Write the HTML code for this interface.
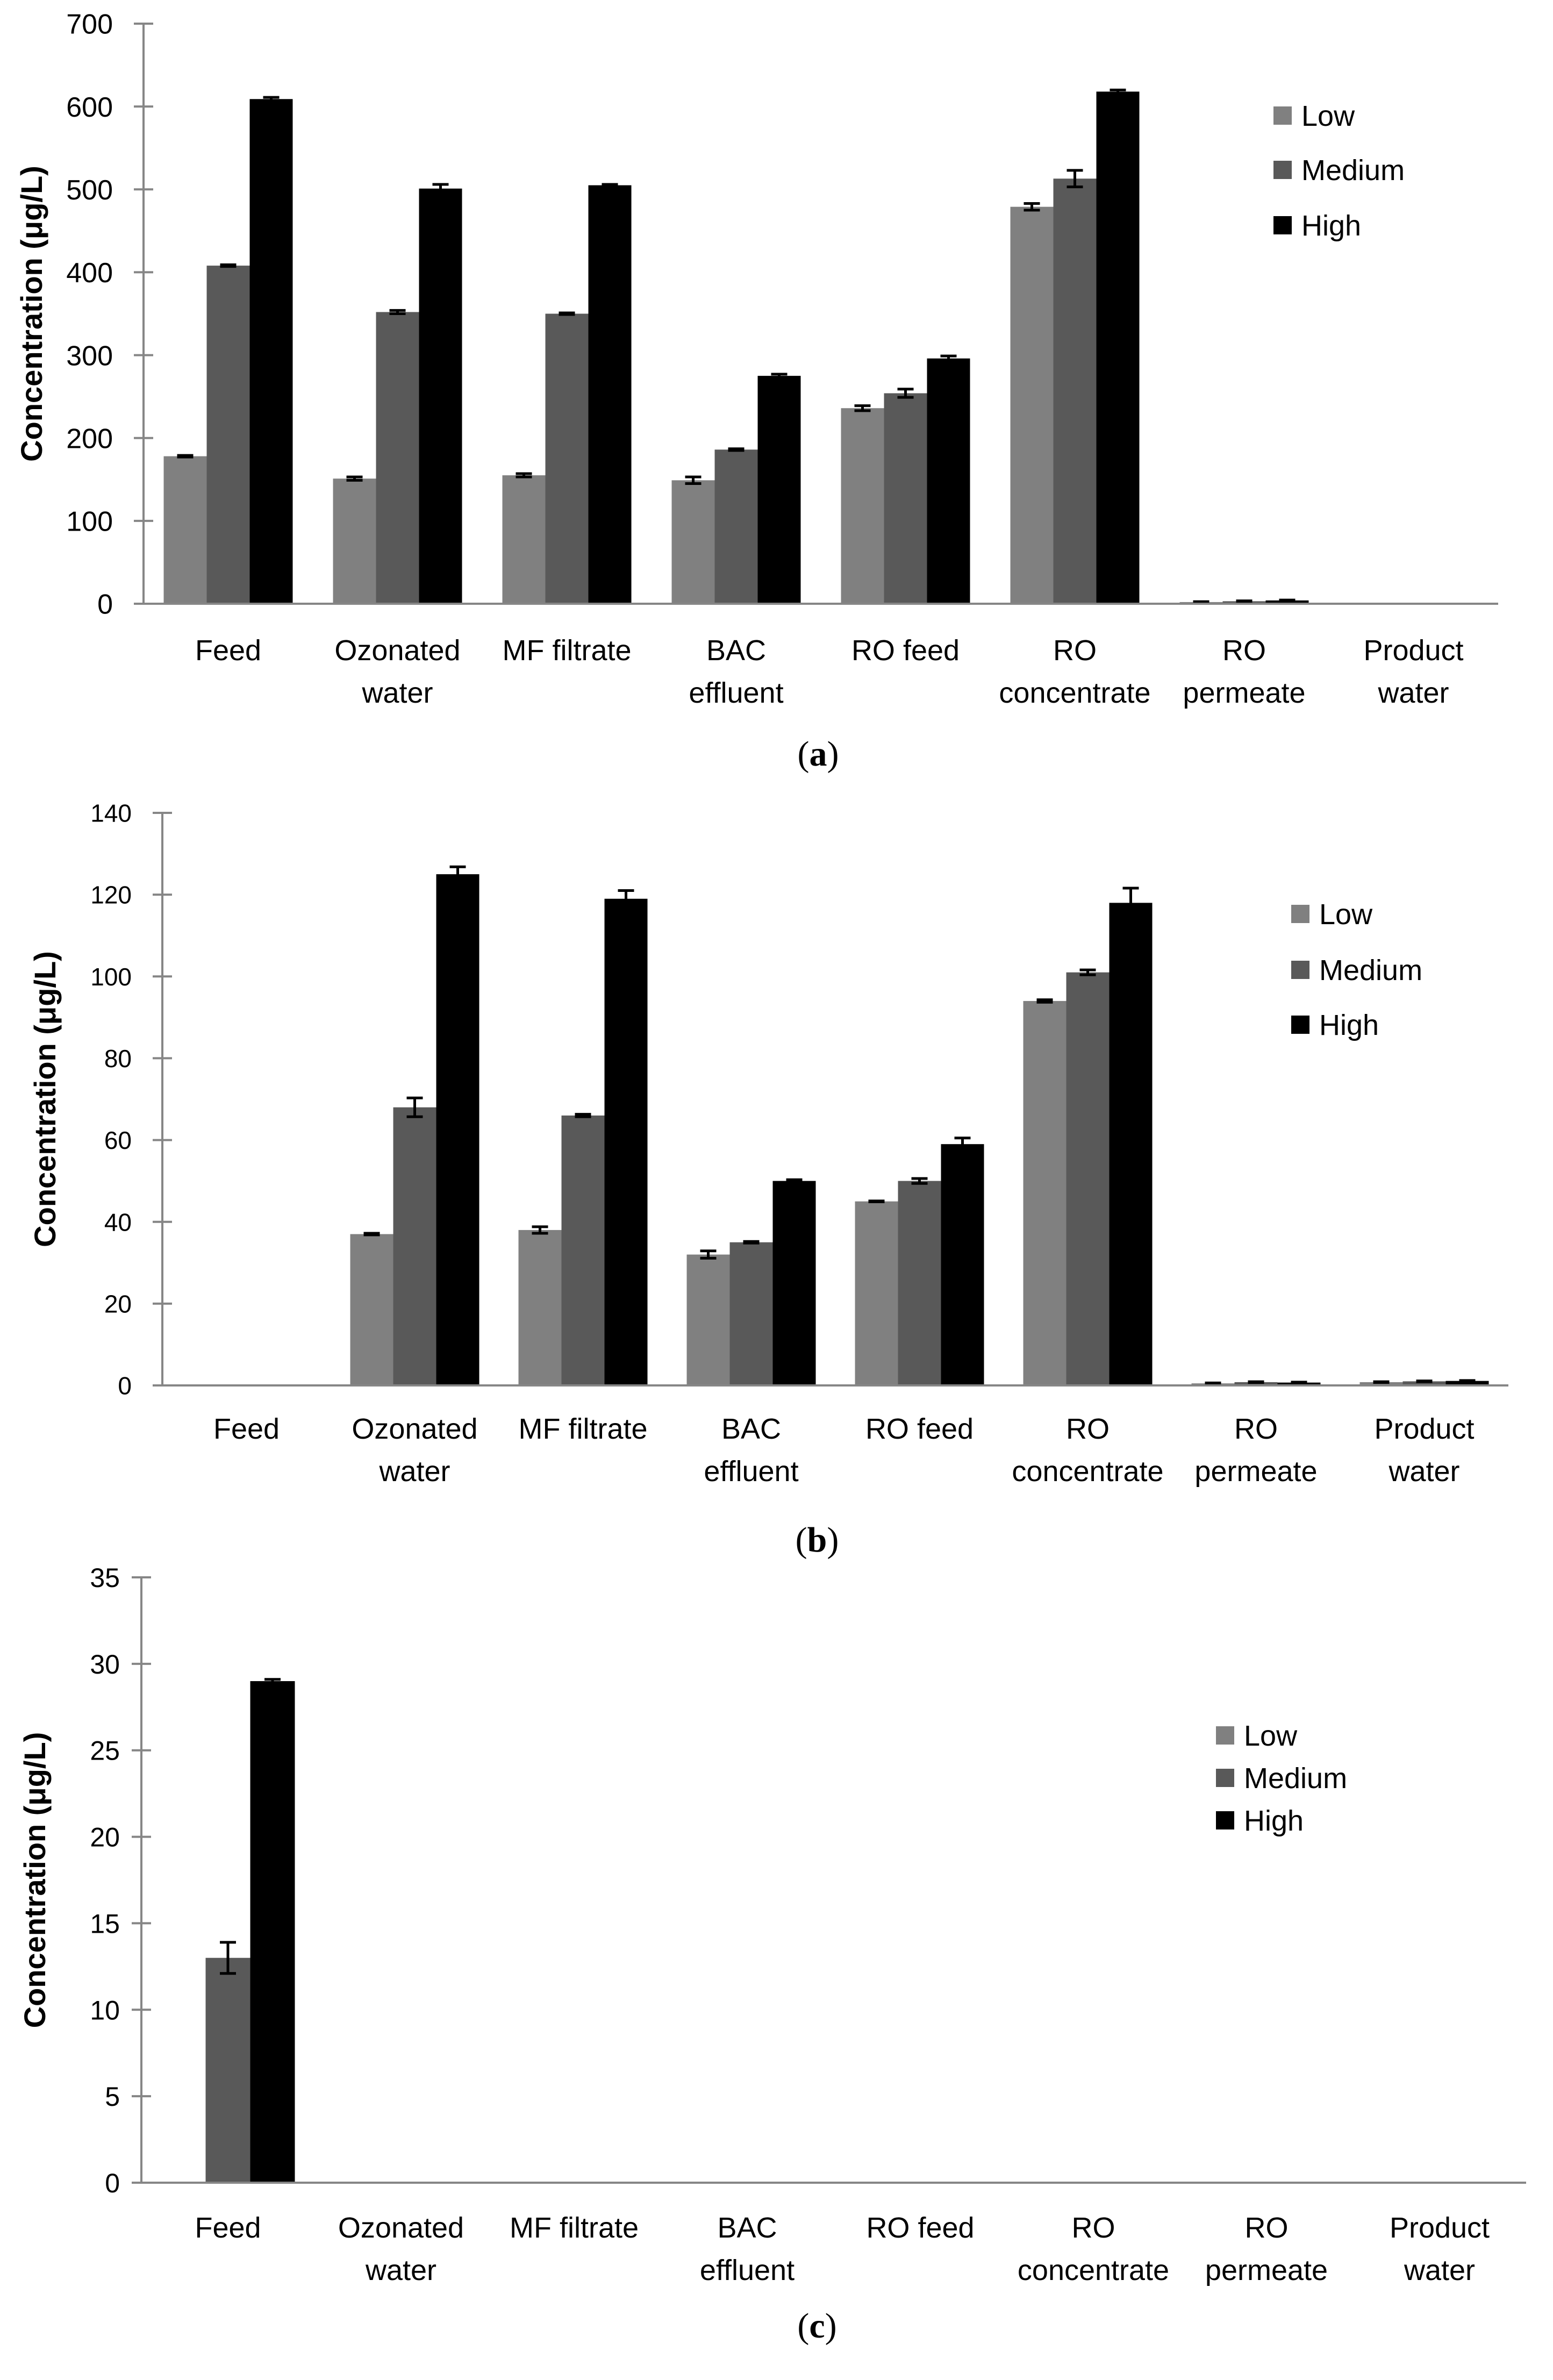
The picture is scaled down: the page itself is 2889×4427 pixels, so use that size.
<!DOCTYPE html>
<html><head><meta charset="utf-8">
<style>
html,body{margin:0;padding:0;background:#fff;}
svg{display:block;font-family:"Liberation Sans",sans-serif;}
</style></head>
<body>
<svg id="fig" width="2889" height="4427" viewBox="0 0 2889 4427"></svg>
<script>
const categories = ["Feed","Ozonated|water","MF filtrate","BAC|effluent","RO feed","RO|concentrate","RO|permeate","Product|water"];
const seriesNames = ["Low","Medium","High"];
const aLow = [178,151,155,149,236,479,2,0];
const aMed = [408,352,350,186,254,513,3,0];
const aHigh = [609,501,505,275,296,618,4,0];
const aLowErr = [1,2,2,4,3,4,0.5,0];
const aMedErr = [1,2,1,1,5,10,0.5,0];
const aHighErr = [2,5,1,2,3,2,0.5,0];
const aTicks = [0,100,200,300,400,500,600,700];
const bLow = [0,37,38,32,45,94,0.5,0.8];
const bMed = [0,68,66,35,50,101,0.8,1.0];
const bHigh = [0,125,119,50,59,118,0.7,1.1];
const bLowErr = [0,0.2,0.8,0.9,0.1,0.3,0.1,0.1];
const bMedErr = [0,2.3,0.3,0.2,0.6,0.6,0.1,0.1];
const bHighErr = [0,1.8,2,0.3,1.5,3.6,0.1,0.1];
const bTicks = [0,20,40,60,80,100,120,140];
const cLow = [0,0,0,0,0,0,0,0];
const cMed = [13,0,0,0,0,0,0,0];
const cHigh = [29,0,0,0,0,0,0,0];
const cLowErr = [0,0,0,0,0,0,0,0];
const cMedErr = [0.9,0,0,0,0,0,0,0];
const cHighErr = [0.1,0,0,0,0,0,0,0];
const cTicks = [0,5,10,15,20,25,30,35];

const NS="http://www.w3.org/2000/svg";
const svg=document.getElementById('fig');
const colors=["#808080","#595959","#000000"];
function mk(tag,attrs,parent){const e=document.createElementNS(NS,tag);for(const k in attrs)e.setAttribute(k,attrs[k]);(parent||svg).appendChild(e);return e;}

function chart(cfg){
  const g=mk('g',{});
  
  
  const max=cfg.ticks[cfg.ticks.length-1];
  const y=v=>cfg.y0-(v/max)*(cfg.y0-cfg.yTop);
  const cw=cfg.cw, bw=cfg.bw;
  const off=(cw-3*bw)/2;
  cfg.series.forEach((s,si)=>{
    s.forEach((v,ci)=>{
      const x=cfg.x0+ci*cw+off+si*bw;
      if(v>0){
        const r=mk('rect',{x:x,y:y(v),width:bw,height:cfg.y0-y(v),fill:colors[si]},g);
        
        
        const e=cfg.errs[si][ci];
        if(e>0){
          const cx=x+bw/2;
          const eb=mk('path',{d:`M${cx},${y(v+e)}V${y(v-e)}M${cx-15},${y(v+e)}H${cx+15}M${cx-15},${y(v-e)}H${cx+15}`,stroke:'#000','stroke-width':5,fill:'none'},g);
          
          
        }
      }
    });
  });
  const ax=mk('line',{x1:cfg.x0,y1:cfg.yTop,x2:cfg.x0,y2:cfg.y0,stroke:'#868686','stroke-width':4},g);
  
  
  const xa=mk('line',{x1:cfg.x0-18,y1:cfg.y0,x2:cfg.x0+8*cw,y2:cfg.y0,stroke:'#868686','stroke-width':4},g);
  
  
  cfg.ticks.forEach(t=>{
    mk('line',{x1:cfg.x0-18,y1:y(t),x2:cfg.x0+18,y2:y(t),stroke:'#868686','stroke-width':4},g);
    const tx=mk('text',{x:cfg.x0-cfg.tickGap,y:y(t)+cfg.tickFs*0.36,'text-anchor':'end','font-size':cfg.tickFs,fill:'#000'},g);
    tx.textContent=t;
    
    
  });
  categories.forEach((c,ci)=>{
    const parts=c.split('|');
    const cx=cfg.x0+ci*cw+cw/2;
    parts.forEach((p,pi)=>{
      const tx=mk('text',{x:cx,y:cfg.labY+pi*79,'text-anchor':'middle','font-size':54,fill:'#000'},g);
      tx.textContent=p;
      
      
    });
  });
  const yt=mk('text',{x:0,y:0,'text-anchor':'middle','font-size':56,'font-weight':'bold',fill:'#000',transform:`translate(${cfg.titleX},${(cfg.y0+cfg.yTop)/2}) rotate(-90)`},g);
  yt.textContent='Concentration (μg/L)';
  
  
  seriesNames.forEach((n,si)=>{
    const ly=cfg.legY[si];
    const sq=mk('rect',{x:cfg.legX,y:ly-17,width:34,height:34,fill:colors[si]},g);
    
    
    const tx=mk('text',{x:cfg.legX+52,y:ly+19,'font-size':54,fill:'#000'},g);
    tx.textContent=n;
    
    
  });
  const cap=mk('text',{x:cfg.capX,y:cfg.capY,'text-anchor':'middle','font-size':66,'font-family':'Liberation Serif, serif',fill:'#000'},g);
  cap.innerHTML='(<tspan font-weight="bold">'+cfg.letter+'</tspan>)';
  
  
}

chart({id:'chart-a',x0:267,y0:1123,yTop:44,cw:315,bw:80,ticks:aTicks,tickFs:52,tickGap:57,series:[aLow,aMed,aHigh],errs:[aLowErr,aMedErr,aHighErr],labY:1228,titleX:78,legX:2369,legY:[215,316,419],capX:1522,capY:1424,letter:'a'});
chart({id:'chart-b',x0:302,y0:2577,yTop:1512,cw:313,bw:80,ticks:bTicks,tickFs:46,tickGap:57,series:[bLow,bMed,bHigh],errs:[bLowErr,bMedErr,bHighErr],labY:2676,titleX:103,legX:2402,legY:[1700,1804,1906],capX:1520,capY:2886,letter:'b'});
chart({id:'chart-c',x0:263,y0:4060,yTop:2934,cw:322,bw:83,ticks:cTicks,tickFs:50,tickGap:40,series:[cLow,cMed,cHigh],errs:[cLowErr,cMedErr,cHighErr],labY:4162,titleX:84,legX:2262,legY:[3228,3307,3386],capX:1520,capY:4348,letter:'c'});
</script>
</body></html>
